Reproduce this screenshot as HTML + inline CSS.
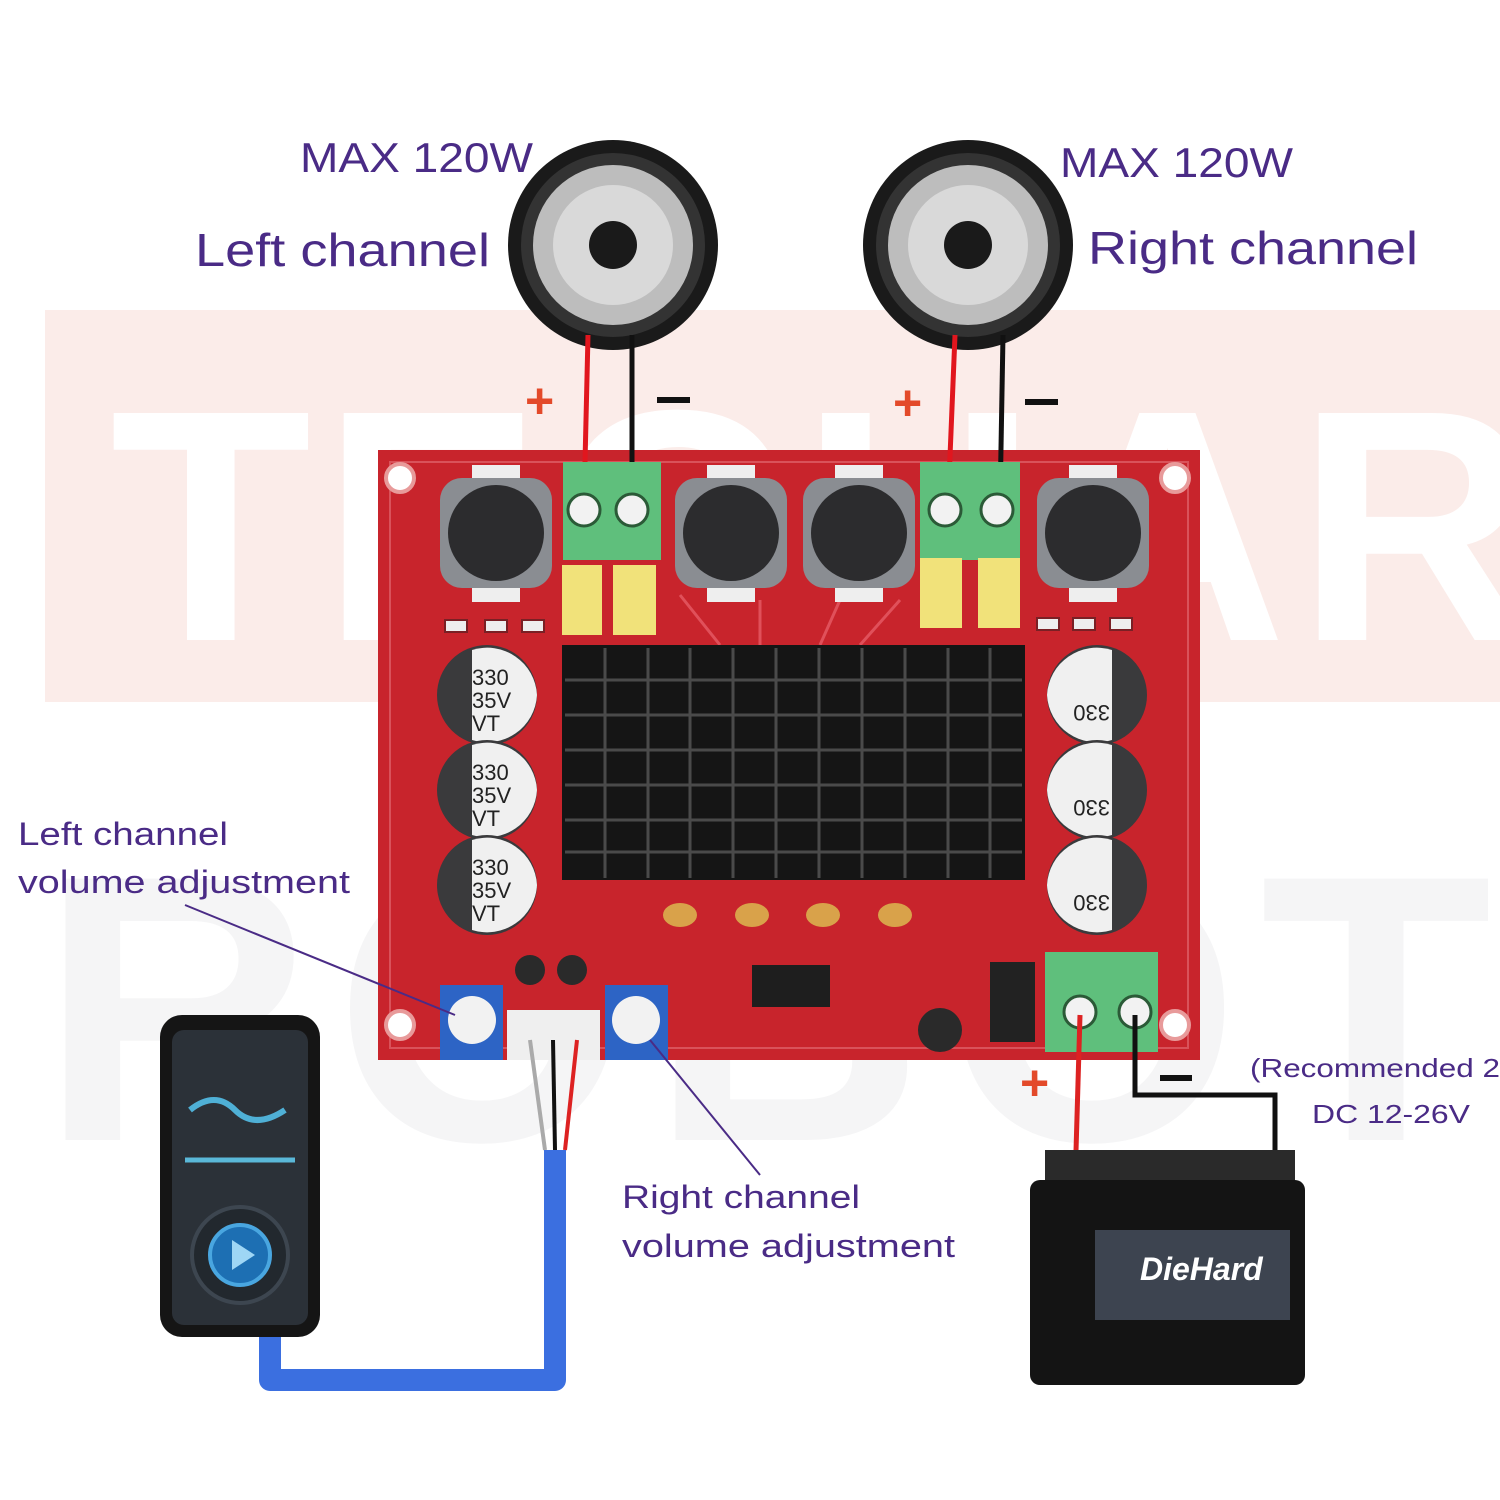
<!DOCTYPE html>
<html><head><meta charset="utf-8"><style>
html,body{margin:0;padding:0;background:#fff;}
svg{display:block}
text{font-family:"Liberation Sans","DejaVu Sans",sans-serif}
</style></head><body>
<svg width="1500" height="1500" viewBox="0 0 1500 1500" xmlns="http://www.w3.org/2000/svg">
<rect width="1500" height="1500" fill="#fff"/>
<rect x="45" y="310" width="1455" height="392" fill="#fbece9"/>
<text x="110" y="640" font-size="330" font-weight="bold" fill="#ffffff" letter-spacing="10">TECHAR</text>
<text x="40" y="1140" font-size="380" font-weight="bold" fill="#f5f5f6" letter-spacing="20">ROBOT</text>

<g fill="#4a2b86">
<text x="300" y="172" font-size="42" textLength="233" lengthAdjust="spacingAndGlyphs">MAX 120W</text>
<text x="195" y="266" font-size="46" textLength="295" lengthAdjust="spacingAndGlyphs">Left channel</text>
<text x="1060" y="177" font-size="42" textLength="233" lengthAdjust="spacingAndGlyphs">MAX 120W</text>
<text x="1088" y="264" font-size="46" textLength="330" lengthAdjust="spacingAndGlyphs">Right channel</text>
<text x="18" y="845" font-size="32" textLength="210" lengthAdjust="spacingAndGlyphs">Left channel</text>
<text x="18" y="893" font-size="32" textLength="332" lengthAdjust="spacingAndGlyphs">volume adjustment</text>
<text x="622" y="1208" font-size="32" textLength="238" lengthAdjust="spacingAndGlyphs">Right channel</text>
<text x="622" y="1257" font-size="32" textLength="333" lengthAdjust="spacingAndGlyphs">volume adjustment</text>
<text x="1250" y="1077" font-size="26" textLength="250" lengthAdjust="spacingAndGlyphs">(Recommended 2</text>
<text x="1312" y="1123" font-size="26" textLength="158" lengthAdjust="spacingAndGlyphs">DC 12-26V</text>
</g>

<g>
<circle cx="613" cy="245" r="105" fill="#1a1a1a"/>
<circle cx="613" cy="245" r="92" fill="#333"/>
<circle cx="613" cy="245" r="80" fill="#bdbdbd"/>
<circle cx="613" cy="245" r="60" fill="#d9d9d9"/>
<circle cx="613" cy="245" r="24" fill="#1a1a1a"/>
<circle cx="968" cy="245" r="105" fill="#1a1a1a"/>
<circle cx="968" cy="245" r="92" fill="#333"/>
<circle cx="968" cy="245" r="80" fill="#bdbdbd"/>
<circle cx="968" cy="245" r="60" fill="#d9d9d9"/>
<circle cx="968" cy="245" r="24" fill="#1a1a1a"/>
</g>
<g fill="#e34a2a" font-size="50" font-weight="bold">
<text x="525" y="418">+</text><text x="893" y="420">+</text><text x="1020" y="1100">+</text>
</g>
<g stroke="#111" stroke-width="6">
<line x1="657" y1="400" x2="690" y2="400"/><line x1="1025" y1="402" x2="1058" y2="402"/><line x1="1160" y1="1078" x2="1192" y2="1078"/>
</g>

<rect x="378" y="450" width="822" height="610" fill="#c8242c"/>
<rect x="390" y="462" width="798" height="586" fill="none" stroke="#d9525a" stroke-width="2"/>
<g fill="#fff" stroke="#e89a9a" stroke-width="4">
<circle cx="400" cy="478" r="14"/><circle cx="1175" cy="478" r="14"/><circle cx="400" cy="1025" r="14"/><circle cx="1175" cy="1025" r="14"/>
</g>
<g stroke="#e0505a" stroke-width="3" fill="none">
<path d="M680 595 L720 645 M760 600 L760 645 M840 600 L820 645 M900 600 L860 645"/>
</g>
<g stroke-width="5">
<line x1="588" y1="335" x2="584" y2="505" stroke="#e1161e"/>
<line x1="632" y1="335" x2="632" y2="505" stroke="#111"/>
<line x1="955" y1="335" x2="948" y2="505" stroke="#e1161e"/>
<line x1="1003" y1="335" x2="1000" y2="505" stroke="#111"/>
</g>
<g>
<rect x="563" y="462" width="98" height="98" fill="#5fbf7c"/>
<rect x="920" y="462" width="100" height="98" fill="#5fbf7c"/>
<circle cx="584" cy="510" r="16" fill="#f2f2f2" stroke="#2b5a37" stroke-width="3"/>
<circle cx="632" cy="510" r="16" fill="#f2f2f2" stroke="#2b5a37" stroke-width="3"/>
<circle cx="945" cy="510" r="16" fill="#f2f2f2" stroke="#2b5a37" stroke-width="3"/>
<circle cx="997" cy="510" r="16" fill="#f2f2f2" stroke="#2b5a37" stroke-width="3"/>
<rect x="1045" y="952" width="113" height="100" fill="#5fbf7c"/>
<circle cx="1080" cy="1012" r="16" fill="#f2f2f2" stroke="#2b5a37" stroke-width="3"/>
<circle cx="1135" cy="1012" r="16" fill="#f2f2f2" stroke="#2b5a37" stroke-width="3"/>
</g>
<g>
<rect x="440" y="478" width="112" height="110" rx="22" fill="#8a8d92"/><circle cx="496" cy="533" r="48" fill="#2c2c2e"/>
<rect x="675" y="478" width="112" height="110" rx="22" fill="#8a8d92"/><circle cx="731" cy="533" r="48" fill="#2c2c2e"/>
<rect x="803" y="478" width="112" height="110" rx="22" fill="#8a8d92"/><circle cx="859" cy="533" r="48" fill="#2c2c2e"/>
<rect x="1037" y="478" width="112" height="110" rx="22" fill="#8a8d92"/><circle cx="1093" cy="533" r="48" fill="#2c2c2e"/>
<rect x="472" y="588" width="48" height="14" fill="#eee"/><rect x="707" y="588" width="48" height="14" fill="#eee"/><rect x="835" y="588" width="48" height="14" fill="#eee"/><rect x="1069" y="588" width="48" height="14" fill="#eee"/>
<rect x="472" y="465" width="48" height="13" fill="#eee"/><rect x="707" y="465" width="48" height="13" fill="#eee"/><rect x="835" y="465" width="48" height="13" fill="#eee"/><rect x="1069" y="465" width="48" height="13" fill="#eee"/>
</g>
<g fill="#f1e27a">
<rect x="562" y="565" width="40" height="70"/><rect x="613" y="565" width="43" height="70"/>
<rect x="920" y="558" width="42" height="70"/><rect x="978" y="558" width="42" height="70"/>
</g>
<g fill="#eee" stroke="#7a2025" stroke-width="2">
<rect x="445" y="620" width="22" height="12"/><rect x="485" y="620" width="22" height="12"/><rect x="522" y="620" width="22" height="12"/>
<rect x="1037" y="618" width="22" height="12"/><rect x="1073" y="618" width="22" height="12"/><rect x="1110" y="618" width="22" height="12"/>
</g>
<rect x="562" y="645" width="463" height="235" fill="#151515"/>
<g stroke="#4a4a4a" stroke-width="3">
<line x1="605" y1="648" x2="605" y2="878"/><line x1="648" y1="648" x2="648" y2="878"/><line x1="690" y1="648" x2="690" y2="878"/><line x1="733" y1="648" x2="733" y2="878"/><line x1="776" y1="648" x2="776" y2="878"/><line x1="819" y1="648" x2="819" y2="878"/><line x1="862" y1="648" x2="862" y2="878"/><line x1="905" y1="648" x2="905" y2="878"/><line x1="948" y1="648" x2="948" y2="878"/><line x1="990" y1="648" x2="990" y2="878"/>
<line x1="565" y1="680" x2="1022" y2="680"/><line x1="565" y1="715" x2="1022" y2="715"/><line x1="565" y1="750" x2="1022" y2="750"/><line x1="565" y1="785" x2="1022" y2="785"/><line x1="565" y1="820" x2="1022" y2="820"/><line x1="565" y1="852" x2="1022" y2="852"/>
</g>
<g font-size="22" fill="#222">
<g><circle cx="487" cy="695" r="50" fill="#3a3a3c"/><path d="M472 650 A50 50 0 0 1 537 695 A50 50 0 0 1 472 740 Z" fill="#f0f0f0"/><text x="472" y="685">330</text><text x="472" y="708">35V</text><text x="472" y="731">VT</text></g>
<g><circle cx="487" cy="790" r="50" fill="#3a3a3c"/><path d="M472 745 A50 50 0 0 1 537 790 A50 50 0 0 1 472 835 Z" fill="#f0f0f0"/><text x="472" y="780">330</text><text x="472" y="803">35V</text><text x="472" y="826">VT</text></g>
<g><circle cx="487" cy="885" r="50" fill="#3a3a3c"/><path d="M472 840 A50 50 0 0 1 537 885 A50 50 0 0 1 472 930 Z" fill="#f0f0f0"/><text x="472" y="875">330</text><text x="472" y="898">35V</text><text x="472" y="921">VT</text></g>
<g><circle cx="1097" cy="695" r="50" fill="#3a3a3c"/><path d="M1112 650 A50 50 0 0 0 1047 695 A50 50 0 0 0 1112 740 Z" fill="#f0f0f0"/><text transform="translate(1110 705) rotate(180)" font-size="22">330</text></g>
<g><circle cx="1097" cy="790" r="50" fill="#3a3a3c"/><path d="M1112 745 A50 50 0 0 0 1047 790 A50 50 0 0 0 1112 835 Z" fill="#f0f0f0"/><text transform="translate(1110 800) rotate(180)" font-size="22">330</text></g>
<g><circle cx="1097" cy="885" r="50" fill="#3a3a3c"/><path d="M1112 840 A50 50 0 0 0 1047 885 A50 50 0 0 0 1112 930 Z" fill="#f0f0f0"/><text transform="translate(1110 895) rotate(180)" font-size="22">330</text></g>
</g>
<g fill="#d9a24a"><ellipse cx="680" cy="915" rx="17" ry="12"/><ellipse cx="752" cy="915" rx="17" ry="12"/><ellipse cx="823" cy="915" rx="17" ry="12"/><ellipse cx="895" cy="915" rx="17" ry="12"/></g>
<rect x="752" y="965" width="78" height="42" fill="#1e1e1e"/>
<circle cx="530" cy="970" r="15" fill="#2a2a2a"/><circle cx="572" cy="970" r="15" fill="#2a2a2a"/>
<circle cx="940" cy="1030" r="22" fill="#2a2a2a"/>
<rect x="990" y="962" width="45" height="80" fill="#222"/>
<rect x="440" y="985" width="63" height="75" fill="#2d64c5"/><circle cx="472" cy="1020" r="24" fill="#f2f2f2"/>
<rect x="605" y="985" width="63" height="75" fill="#2d64c5"/><circle cx="636" cy="1020" r="24" fill="#f2f2f2"/>
<rect x="507" y="1010" width="93" height="50" fill="#efefef"/>
<line x1="185" y1="905" x2="455" y2="1015" stroke="#4a2b86" stroke-width="2"/>
<line x1="650" y1="1040" x2="760" y2="1175" stroke="#4a2b86" stroke-width="2"/>
<g stroke-width="4">
<line x1="530" y1="1040" x2="545" y2="1150" stroke="#aaa"/>
<line x1="553" y1="1040" x2="555" y2="1150" stroke="#111"/>
<line x1="577" y1="1040" x2="565" y2="1150" stroke="#d22"/>
</g>
<path d="M270 1330 L270 1380 L555 1380 L555 1150" fill="none" stroke="#3b6fe0" stroke-width="22" stroke-linejoin="round"/>
<rect x="160" y="1015" width="160" height="322" rx="22" fill="#151515"/>
<rect x="172" y="1030" width="136" height="295" rx="12" fill="#2b3138"/>
<path d="M190 1110 Q215 1090 235 1110 T285 1110" stroke="#4fb0d6" stroke-width="6" fill="none"/>
<line x1="185" y1="1160" x2="295" y2="1160" stroke="#5ab8d8" stroke-width="5"/>
<circle cx="240" cy="1255" r="48" fill="#22282e" stroke="#3d4650" stroke-width="4"/>
<circle cx="240" cy="1255" r="30" fill="#1d6fb3" stroke="#49a6e0" stroke-width="4"/>
<polygon points="232,1240 232,1270 255,1255" fill="#9ed6f5"/>
<line x1="1080" y1="1015" x2="1075" y2="1185" stroke="#d22" stroke-width="5"/>
<path d="M1135 1015 L1135 1095 L1275 1095 L1275 1165" fill="none" stroke="#111" stroke-width="5"/>
<rect x="1045" y="1150" width="250" height="40" fill="#2a2a2a"/>
<rect x="1030" y="1180" width="275" height="205" rx="10" fill="#141414"/>
<rect x="1095" y="1230" width="195" height="90" fill="#3d4450"/>
<text x="1140" y="1280" font-size="32" font-weight="bold" font-style="italic" fill="#fff">DieHard</text>
</svg>
</body></html>
